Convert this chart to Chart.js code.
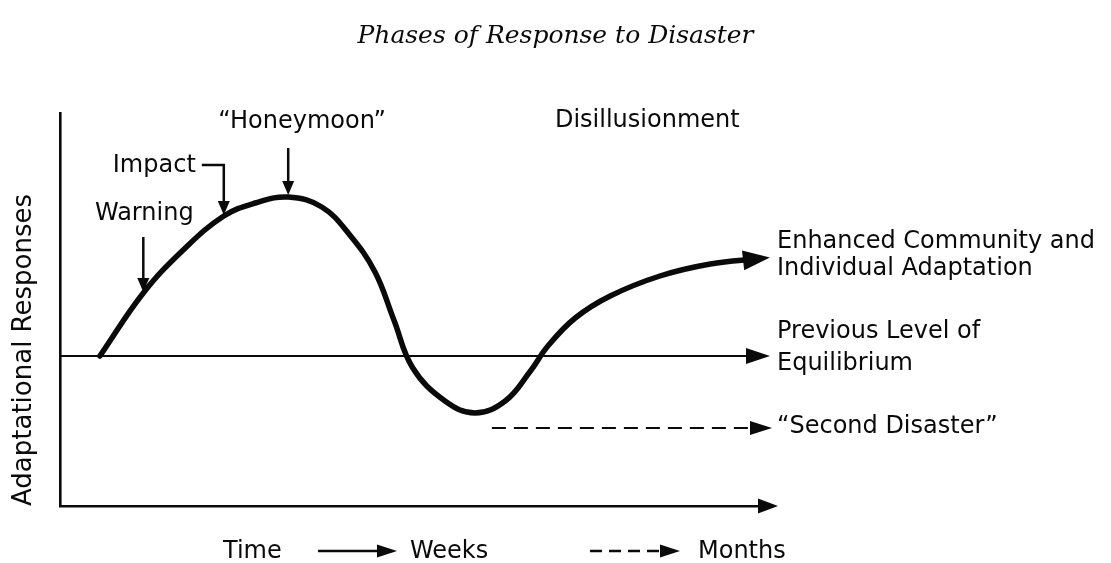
<!DOCTYPE html>
<html>
<head>
<meta charset="utf-8">
<script src="https://cdn.jsdelivr.net/npm/chart.js@4.4.1/dist/chart.umd.min.js"></script>
<style>
  html, body { margin: 0; padding: 0; background: #fff; }
  #wrap { width: 1111px; height: 563px; }
</style>
</head>
<body>
<div id="wrap"><canvas id="phases"></canvas></div>
<script>
// values: time (0-100) vs adaptational response (0 = previous equilibrium)
const curveTime = [5.7, 11.9, 17.6, 23.4, 27.9, 32.6, 37.4, 41.4, 45, 47.7, 50.4, 55, 59.3, 63.6, 67.1, 69.7, 73.6, 78.6, 85.7, 92.9, 100];
const curveResponse = [0, 6.3, 10.6, 14.0, 15.3, 15.9, 14.9, 12.1, 8.4, 3.6, -1.2, -4.5, -5.7, -4.5, -1.6, 1.0, 3.8, 6.0, 8.0, 9.2, 9.75];
const equilibriumTime = [0, 100];
const equilibriumLevel = [0, 0];
const secondDisasterTime = [61.7, 100];
const secondDisasterLevel = [-7.2, -7.2];

const phaseNames = ['Warning', 'Impact', '\u201CHoneymoon\u201D', 'Disillusionment'];
const phasePoint = [1, 3, 5]; // curve points the phase arrows point at
const outcomeLabels = [
  ['Enhanced Community and', 'Individual Adaptation'],
  ['Previous Level of', 'Equilibrium'],
  ['\u201CSecond Disaster\u201D']
];
const timeLegend = ['Time', 'Weeks', 'Months'];

const INK = '#0a0a0a';
const SANS = '"DejaVu Sans", sans-serif';

const toPoints = (xs, ys) => xs.map((x, i) => ({ x, y: ys[i] }));

function arrowHead(ctx, fx, fy, tx, ty, len, half) {
  const a = Math.atan2(ty - fy, tx - fx);
  ctx.save();
  ctx.translate(tx, ty);
  ctx.rotate(a);
  ctx.beginPath();
  ctx.moveTo(0, 0);
  ctx.lineTo(-len, -half);
  ctx.lineTo(-len, half);
  ctx.closePath();
  ctx.fill();
  ctx.restore();
}

function line(ctx, x0, y0, x1, y1, w, dash) {
  ctx.save();
  ctx.lineWidth = w;
  ctx.setLineDash(dash || []);
  ctx.beginPath();
  ctx.moveTo(x0, y0);
  ctx.lineTo(x1, y1);
  ctx.stroke();
  ctx.restore();
}

// arrows, phase names and side labels
const annotate = {
  id: 'annotate',
  afterDraw(chart) {
    const { ctx, chartArea: area } = chart;
    ctx.save();
    ctx.fillStyle = INK;
    ctx.strokeStyle = INK;

    // arrow tips at the end of each line
    const ends = [[0, 10, 27, 10], [1, 10, 24, 8], [2, 12, 22, 7]];
    ends.forEach(([i, ext, len, half]) => {
      const pts = chart.getDatasetMeta(i).data;
      const a = pts[pts.length - 2], b = pts[pts.length - 1];
      const d = Math.hypot(b.x - a.x, b.y - a.y);
      const tx = b.x + (b.x - a.x) / d * ext, ty = b.y + (b.y - a.y) / d * ext;
      arrowHead(ctx, a.x, a.y, tx, ty, len, half);
    });

    // time axis arrow
    line(ctx, area.right, area.bottom, area.right + 8, area.bottom, 2.5);
    arrowHead(ctx, area.right, area.bottom, area.right + 18, area.bottom, 20, 7.5);

    // phase arrows
    const curve = chart.getDatasetMeta(0).data;
    ctx.font = '24px ' + SANS;
    ctx.textBaseline = 'alphabetic';

    const w = curve[phasePoint[0]];
    ctx.textAlign = 'center';
    ctx.fillText(phaseNames[0], w.x + 1, w.y - 73);
    line(ctx, w.x, w.y - 56, w.x, w.y - 10, 2.5);
    arrowHead(ctx, w.x, w.y - 56, w.x, w.y - 1, 14, 6);

    const im = curve[phasePoint[1]];
    ctx.textAlign = 'right';
    ctx.fillText(phaseNames[1], im.x - 28, im.y - 44);
    ctx.save();
    ctx.lineWidth = 2.5;
    ctx.beginPath();
    ctx.moveTo(im.x - 22, im.y - 51);
    ctx.lineTo(im.x, im.y - 51);
    ctx.lineTo(im.x, im.y - 10);
    ctx.stroke();
    ctx.restore();
    arrowHead(ctx, im.x, im.y - 51, im.x, im.y - 1, 14, 6);

    const hm = curve[phasePoint[2]];
    ctx.textAlign = 'center';
    ctx.fillText(phaseNames[2], hm.x + 14, hm.y - 69);
    line(ctx, hm.x, hm.y - 49, hm.x, hm.y - 10, 2.5);
    arrowHead(ctx, hm.x, hm.y - 49, hm.x, hm.y - 2, 14, 6);

    const xs = chart.scales.x, ys = chart.scales.y;
    ctx.fillText(phaseNames[3], xs.getPixelForValue(83.9), area.top + 14);

    // outcome labels at the right
    ctx.textAlign = 'left';
    const lx = area.right + 17;
    const endY = [ys.getPixelForValue(curveResponse[curveResponse.length - 1]),
                  ys.getPixelForValue(equilibriumLevel[1]),
                  ys.getPixelForValue(secondDisasterLevel[1])];
    const firstOff = [-10.5, -18, 5];
    const gap = [27, 32, 0];
    outcomeLabels.forEach((lines, k) => {
      lines.forEach((t, j) => ctx.fillText(t, lx, endY[k] + firstOff[k] + j * gap[k]));
    });

    // time legend under the axis
    const by = 558, ay = 551;
    ctx.fillText(timeLegend[0], 223, by);
    line(ctx, 318, ay, 385, ay, 2.5);
    arrowHead(ctx, 318, ay, 397, ay, 20, 6.5);
    ctx.fillText(timeLegend[1], 410, by);
    line(ctx, 590, ay, 668, ay, 2.5, [12, 7]);
    arrowHead(ctx, 590, ay, 680, ay, 20, 6.5);
    ctx.fillText(timeLegend[2], 698, by);

    ctx.restore();
  }
};

const hidden = { display: false, drawTicks: false };

new Chart(document.getElementById('phases'), {
  type: 'line',
  data: {
    datasets: [
      {
        label: 'Adaptational Responses',
        data: toPoints(curveTime, curveResponse),
        borderColor: INK,
        borderWidth: 5.5,
        pointRadius: 0,
        tension: 0.4,
        borderCapStyle: 'round',
        fill: false,
        clip: false
      },
      {
        label: 'Previous Level of Equilibrium',
        data: toPoints(equilibriumTime, equilibriumLevel),
        borderColor: INK,
        borderWidth: 2.2,
        pointRadius: 0,
        fill: false,
        clip: false
      },
      {
        label: 'Second Disaster',
        data: toPoints(secondDisasterTime, secondDisasterLevel),
        borderColor: INK,
        borderWidth: 2.2,
        borderDash: [14, 8],
        pointRadius: 0,
        fill: false,
        clip: false
      }
    ]
  },
  options: {
    responsive: true,
    maintainAspectRatio: false,
    animation: false,
    events: [],
    layout: { padding: { left: 0, right: 0, top: 0, bottom: 57 } },
    plugins: {
      legend: { display: false },
      tooltip: { enabled: false },
      title: {
        display: true,
        text: 'Phases of Response to Disaster',
        color: INK,
        font: { family: '"DejaVu Serif", serif', style: 'italic', weight: 'normal', size: 25 },
        padding: { top: 21.5, bottom: 61.5 }
      }
    },
    scales: {
      x: {
        type: 'linear', min: 0, max: 100,
        grid: hidden,
        ticks: { display: false },
        border: { display: true, color: INK, width: 2.6 }
      },
      y: {
        type: 'linear', min: -15, max: 24.3,
        grid: hidden,
        ticks: { display: false },
        border: { display: true, color: INK, width: 2.6 },
        title: {
          display: true,
          text: 'Adaptational Responses',
          align: 'start',
          color: INK,
          font: { family: SANS, size: 26 },
          padding: { top: 8.4, bottom: 20.4 }
        },
        afterFit(s) { s.width = 60; }
      },
      side: {
        type: 'linear', position: 'right',
        grid: hidden,
        ticks: { display: false },
        border: { display: false },
        afterFit(s) { s.width = 351; }
      }
    }
  },
  plugins: [annotate]
});
</script>
</body>
</html>
